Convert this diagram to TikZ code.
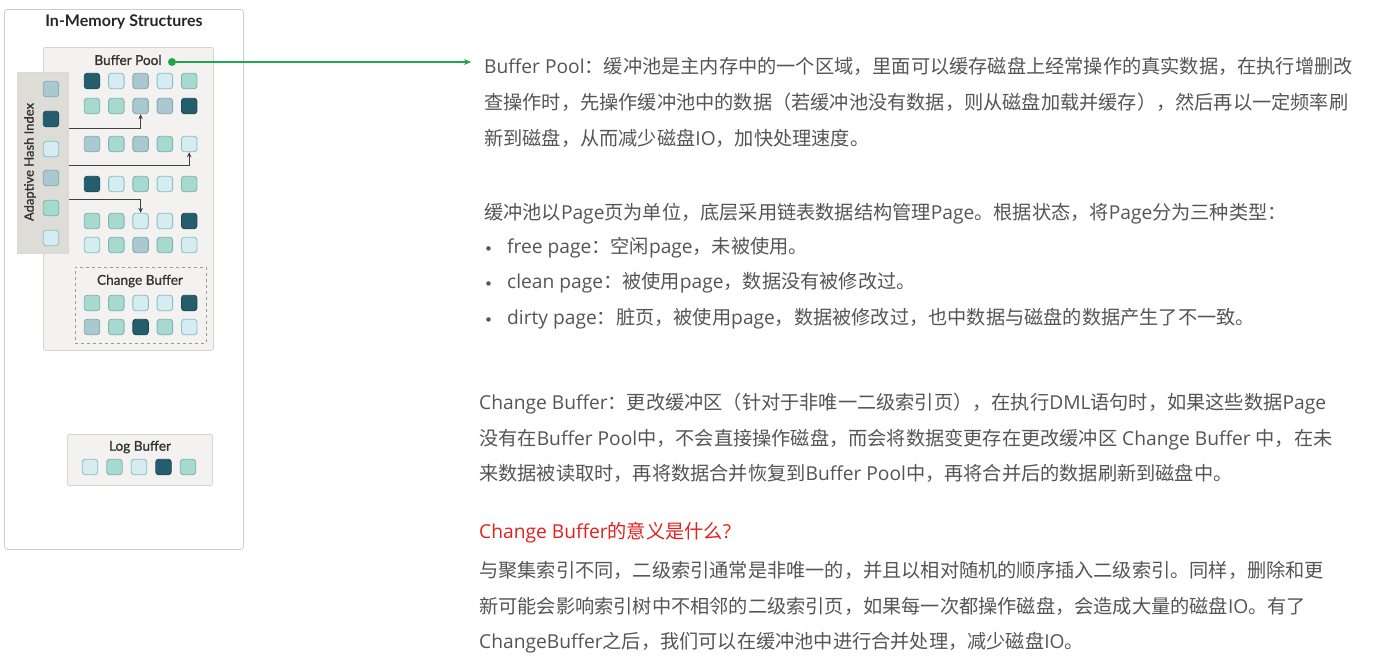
\documentclass[tikz,border=0pt]{standalone}
\usepackage{fontspec}
\setmainfont{Lato}
\newfontfamily\lblfont[FakeBold=1]{Lato}
\newfontfamily\cjk{Noto Sans CJK SC}
\newfontfamily\latin{Open Sans}
\newcommand\lt[1]{{\latin #1}}
\usetikzlibrary{arrows.meta}
\definecolor{sqD}{HTML}{245E6C}\definecolor{sqDe}{HTML}{1B4A56}
\definecolor{sqL}{HTML}{D4ECF2}\definecolor{sqLe}{HTML}{8DBFC0}
\definecolor{sqB}{HTML}{A9C8CF}\definecolor{sqBe}{HTML}{84ACB2}
\definecolor{sqT}{HTML}{A6D9D0}\definecolor{sqTe}{HTML}{7FB5AE}
\definecolor{panelfill}{HTML}{F3F2F0}
\definecolor{paneledge}{HTML}{D6D4D0}
\definecolor{ahifill}{HTML}{DEDCD7}
\definecolor{txt}{HTML}{555555}
\definecolor{hl}{HTML}{E3211E}
\definecolor{grn}{HTML}{1FA64E}
\tikzset{
  sq/.style={fill=sq#1, draw=sq#1e, line width=0.9pt, rounded corners=3pt,
    minimum size=15.5pt, inner sep=0pt},
  panel/.style={fill=panelfill, draw=paneledge, line width=0.8pt, rounded corners=2pt,
    anchor=north west, inner sep=0pt},
  lbl/.style={font=\lblfont\fontsize{13.6}{15}\selectfont, text=black!80},
  para/.style={anchor=base west, inner sep=0pt, text=txt, font=\cjk\fontsize{19.2}{22}\selectfont},
  conn/.style={draw=black!75, line width=0.9pt, -{Stealth[length=5pt,width=4.5pt]}},
}
\newcommand\sqrow[4]{% prefix, x0, y, colors
  \foreach \c [count=\i] in {#4} {
    \node[sq=\c] (#1-\i) at ({#2+24.3*(\i-1)},#3) {};
  }}
\begin{document}
\begin{tikzpicture}[x=1pt,y=-1pt]
\useasboundingbox (0,0) rectangle (1376,670);
\fill[white] (0,0) rectangle (1376,670);
% outer box
\node[draw=black!20, line width=0.8pt, rounded corners=3pt, anchor=north west,
  minimum width=239pt, minimum height=540pt, inner sep=0pt] (outer) at (4,9) {};
\node[font=\bfseries\fontsize{16}{18}\selectfont, text=black!85] (title) at (124,22) {In-Memory Structures};
% buffer pool
\node[panel, minimum width=170pt, minimum height=303pt] (bp) at (43,47) {};
\node[lbl] (bplbl) at (128,60) {Buffer Pool};
\sqrow{r1}{92}{81}{D,L,B,L,T}
\sqrow{r2}{92}{106}{T,T,B,B,D}
\sqrow{r3}{92}{144}{B,T,B,T,L}
\sqrow{r4}{92}{184}{D,L,T,L,T}
\sqrow{r5}{92}{221}{T,T,L,L,D}
\sqrow{r6}{92}{245}{L,T,B,T,L}
% change buffer
\node[draw=black!40, dashed, line width=0.8pt, anchor=north west, minimum width=131pt,
  minimum height=76pt, inner sep=0pt] (cb) at (75,267) {};
\node[lbl] (cblbl) at (140,281) {Change Buffer};
\sqrow{c1}{92}{303}{T,T,L,L,D}
\sqrow{c2}{92}{327}{B,T,D,T,L}
% adaptive hash index
\node[fill=ahifill, draw=black!15, line width=0.6pt, anchor=north west, minimum width=51pt,
  minimum height=181pt, inner sep=0pt] (ahi) at (17,72) {};
\node[lbl, rotate=90, font=\lblfont\fontsize{13}{14}\selectfont] (ahilbl) at (30,162) {Adaptive Hash Index};
\foreach \c/\y [count=\i] in {B/89,D/119,L/149,B/178,T/208,L/238}
  \node[sq=\c] (a-\i) at (51,\y) {};
% arrows from hash index
\draw[conn] (ahi.east |- 0,128) -| (r2-3.south);
\draw[conn] (ahi.east |- 0,165) -| (r3-5.south);
\draw[conn] (ahi.east |- 0,199) -| (r5-3.north);
% log buffer
\node[panel, minimum width=145pt, minimum height=51pt] (lb) at (67,434) {};
\node[lbl] (lblbl) at (140,447) {Log Buffer};
\foreach \c [count=\i] in {L,T,L,D,T}
  \node[sq=\c] (l-\i) at ({90+24.5*(\i-1)},467) {};
% green pointer
\coordinate (gend) at (471,62);
\fill[grn] (172,62) circle (4pt) coordinate (gdot);
\draw[grn, line width=1.4pt, -{Stealth[length=7pt,width=6pt]}] (gdot) -- (gend);
% text
\node[para] (p1a) at (484,73) {\lt{Buffer Pool}：缓冲池是主内存中的一个区域，里面可以缓存磁盘上经常操作的真实数据，在执行增删改};
\node[para] (p1b) at (484,109) {查操作时，先操作缓冲池中的数据（若缓冲池没有数据，则从磁盘加载并缓存），然后再以一定频率刷};
\node[para] (p1c) at (484,145) {新到磁盘，从而减少磁盘\lt{IO}，加快处理速度。};
\node[para] (p2a) at (484,219) {缓冲池以\lt{Page}页为单位，底层采用链表数据结构管理\lt{Page}。根据状态，将\lt{Page}分为三种类型：};
\node[para, font=\fontsize{12}{14}\selectfont] (b1) at (485,252) {•};
\node[para] (bt1) at (507,253) {\lt{free page}：空闲\lt{page}，未被使用。};
\node[para, font=\fontsize{12}{14}\selectfont] (b2) at (485,287) {•};
\node[para] (bt2) at (507,288) {\lt{clean page}：被使用\lt{page}，数据没有被修改过。};
\node[para, font=\fontsize{12}{14}\selectfont] (b3) at (485,323) {•};
\node[para] (bt3) at (507,324) {\lt{dirty page}：脏页，被使用\lt{page}，数据被修改过，也中数据与磁盘的数据产生了不一致。};
\node[para] (p3a) at (479,409) {\lt{Change Buffer}：更改缓冲区（针对于非唯一二级索引页），在执行\lt{DML}语句时，如果这些数据\lt{Page}};
\node[para] (p3b) at (479,445) {没有在\lt{Buffer Pool}中，不会直接操作磁盘，而会将数据变更存在更改缓冲区\lt{ Change Buffer }中，在未};
\node[para] (p3c) at (479,480) {来数据被读取时，再将数据合并恢复到\lt{Buffer Pool}中，再将合并后的数据刷新到磁盘中。};
\node[para, text=hl] (h4) at (479,538) {\lt{Change Buffer}的意义是什么\lt{?}};
\node[para] (p4a) at (479,577) {与聚集索引不同，二级索引通常是非唯一的，并且以相对随机的顺序插入二级索引。同样，删除和更};
\node[para] (p4b) at (479,613) {新可能会影响索引树中不相邻的二级索引页，如果每一次都操作磁盘，会造成大量的磁盘\lt{IO}。有了};
\node[para] (p4c) at (479,648) {\lt{ChangeBuffer}之后，我们可以在缓冲池中进行合并处理，减少磁盘\lt{IO}。};
\end{tikzpicture}
\end{document}
